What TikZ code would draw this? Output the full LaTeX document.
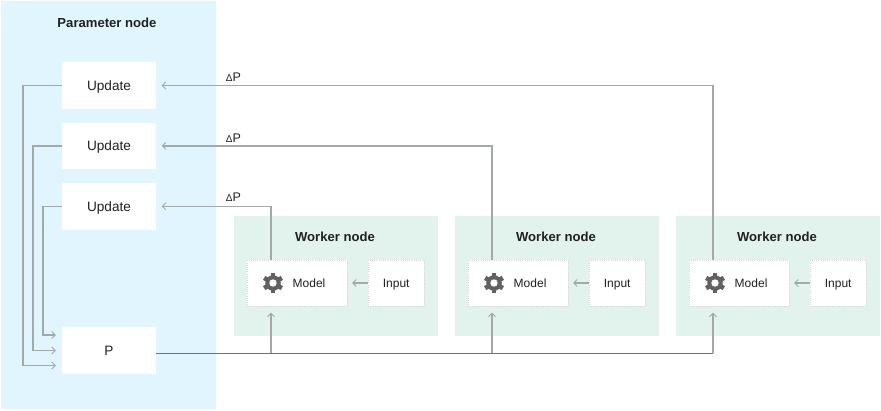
\documentclass[tikz,border=0pt]{standalone}
\usepackage{fontspec}
\setmainfont{Liberation Sans}
\usetikzlibrary{positioning, arrows.meta}

\definecolor{paramblue}{HTML}{E1F5FE}
\definecolor{workergreen}{HTML}{E2F2EC}
\definecolor{linegray}{HTML}{A3A9A9}
\definecolor{darkline}{HTML}{6E7272}
\definecolor{geargray}{HTML}{616161}
\definecolor{textdark}{HTML}{212121}

\begin{document}
\begin{tikzpicture}[x=1pt, y=-1pt, >={Straight Barb[length=3.5pt, width=7pt, line width=0.9pt]},
        every node/.style={text=textdark},
        region/.style={inner sep=0pt, anchor=north west},
        whitebox/.style={fill=white, inner sep=0pt, minimum width=94pt, minimum height=46.5pt, text height=9.6pt, text depth=0pt, font=\fontsize{13.6pt}{16pt}\selectfont},
        innerbox/.style={fill=white, draw=linegray!45, dotted, very thin, inner sep=0pt, minimum height=46pt, text height=8.6pt, text depth=0pt, font=\fontsize{12pt}{14pt}\selectfont},
        regiontitle/.style={font=\fontsize{13.1pt}{16pt}\selectfont\bfseries},
        deltalabel/.style={font=\fontsize{12.5pt}{14pt}\selectfont},
        flow/.style={draw=linegray, line width=1.6pt},
        feed/.style={draw=darkline, line width=1pt},
        gearicon/.style={inner sep=0pt, minimum size=22pt, path picture={
            \fill[geargray] (path picture bounding box.center) circle (7.8pt);
            \foreach \a in {0,60,...,300}
                \draw[geargray, line width=4.6pt] (path picture bounding box.center) -- ++(\a+30:10.2pt);
            \fill[white] (path picture bounding box.center) circle (3.7pt);
        }}]

    \useasboundingbox (0,0) rectangle (881,410);

    % --- Parameter node ---
    \node[region, fill=paramblue, minimum width=215pt, minimum height=408pt] (param) at (1,1) {};
    \node[regiontitle] (paramtitle) at (107,23) {Parameter node};
    \node[whitebox] (up1) at (109,85.5) {Update};
    \node[whitebox, below=13.5pt of up1] (up2) {Update};
    \node[whitebox, below=13.5pt of up2] (up3) {Update};
    \node[whitebox] (P) at (109,350.5) {P};

    % --- Worker nodes ---
    \foreach \i/\xx in {1/234, 2/455, 3/676} {
        \node[region, fill=workergreen, minimum width=204pt, minimum height=120pt] (worker\i) at (\xx,216) {};
        \node[regiontitle] (title\i) at (\xx+101,237) {Worker node};
        \node[innerbox, minimum width=100pt] (model\i) at (\xx+63,283) {};
        \node[innerbox, minimum width=56pt, right=21pt of model\i] (input\i) {Input};
        \node[gearicon] (gear\i) at (\xx+39,283) {};
        \node[right=5pt of gear\i, text height=8.6pt, text depth=0pt, font=\fontsize{12pt}{14pt}\selectfont] (label\i) {Model};
        \coordinate (port\i) at (\xx+37,283);
        \draw[flow, ->] (input\i) -- ([xshift=5pt]model\i.east);
    }

    % --- Updates back to P ---
    \coordinate (bend1) at (22.7,0);
    \coordinate (bend2) at (32.7,0);
    \coordinate (bend3) at (42.7,0);
    \coordinate (in1) at ([yshift=-15pt]P.west);
    \coordinate (in2) at ([yshift=0pt]P.west);
    \coordinate (in3) at ([yshift=15.5pt]P.west);
    \draw[flow, ->, shorten >=6pt] (up1.west) -- (up1.west -| bend1) |- (in1);
    \draw[flow, ->, shorten >=6pt] (up2.west) -- (up2.west -| bend2) |- (in2);
    \draw[flow, ->, shorten >=6pt] (up3.west) -- (up3.west -| bend3) |- (in3);

    % --- Worker results ---
    \draw[flow, ->, shorten >=5.5pt] (port1 |- model1.north) |- (up3.east);
    \draw[flow, ->, shorten >=5.5pt] (port2 |- model2.north) |- (up2.east);
    \draw[flow, ->, shorten >=5.5pt] (port3 |- model3.north) |- (up1.east);

    \node[deltalabel] (delta1) at (233.5,77) {{\fontsize{10pt}{10pt}\selectfont Δ}P};
    \node[deltalabel] (delta2) at (233.5,138) {{\fontsize{10pt}{10pt}\selectfont Δ}P};
    \node[deltalabel] (delta3) at (233.5,197) {{\fontsize{10pt}{10pt}\selectfont Δ}P};

    % --- Parameters out to the workers ---
    \coordinate (bus) at ([yshift=-2.7pt]P.east);
    \draw[feed] (bus) -- (bus -| port3);
    \draw[flow, ->, shorten >=6.5pt] (bus -| port1) -- (port1 |- model1.south);
    \draw[flow, ->, shorten >=6.5pt] (bus -| port2) -- (port2 |- model2.south);
    \draw[flow, ->, shorten >=6.5pt] (bus -| port3) -- (port3 |- model3.south);

\end{tikzpicture}
\end{document}
